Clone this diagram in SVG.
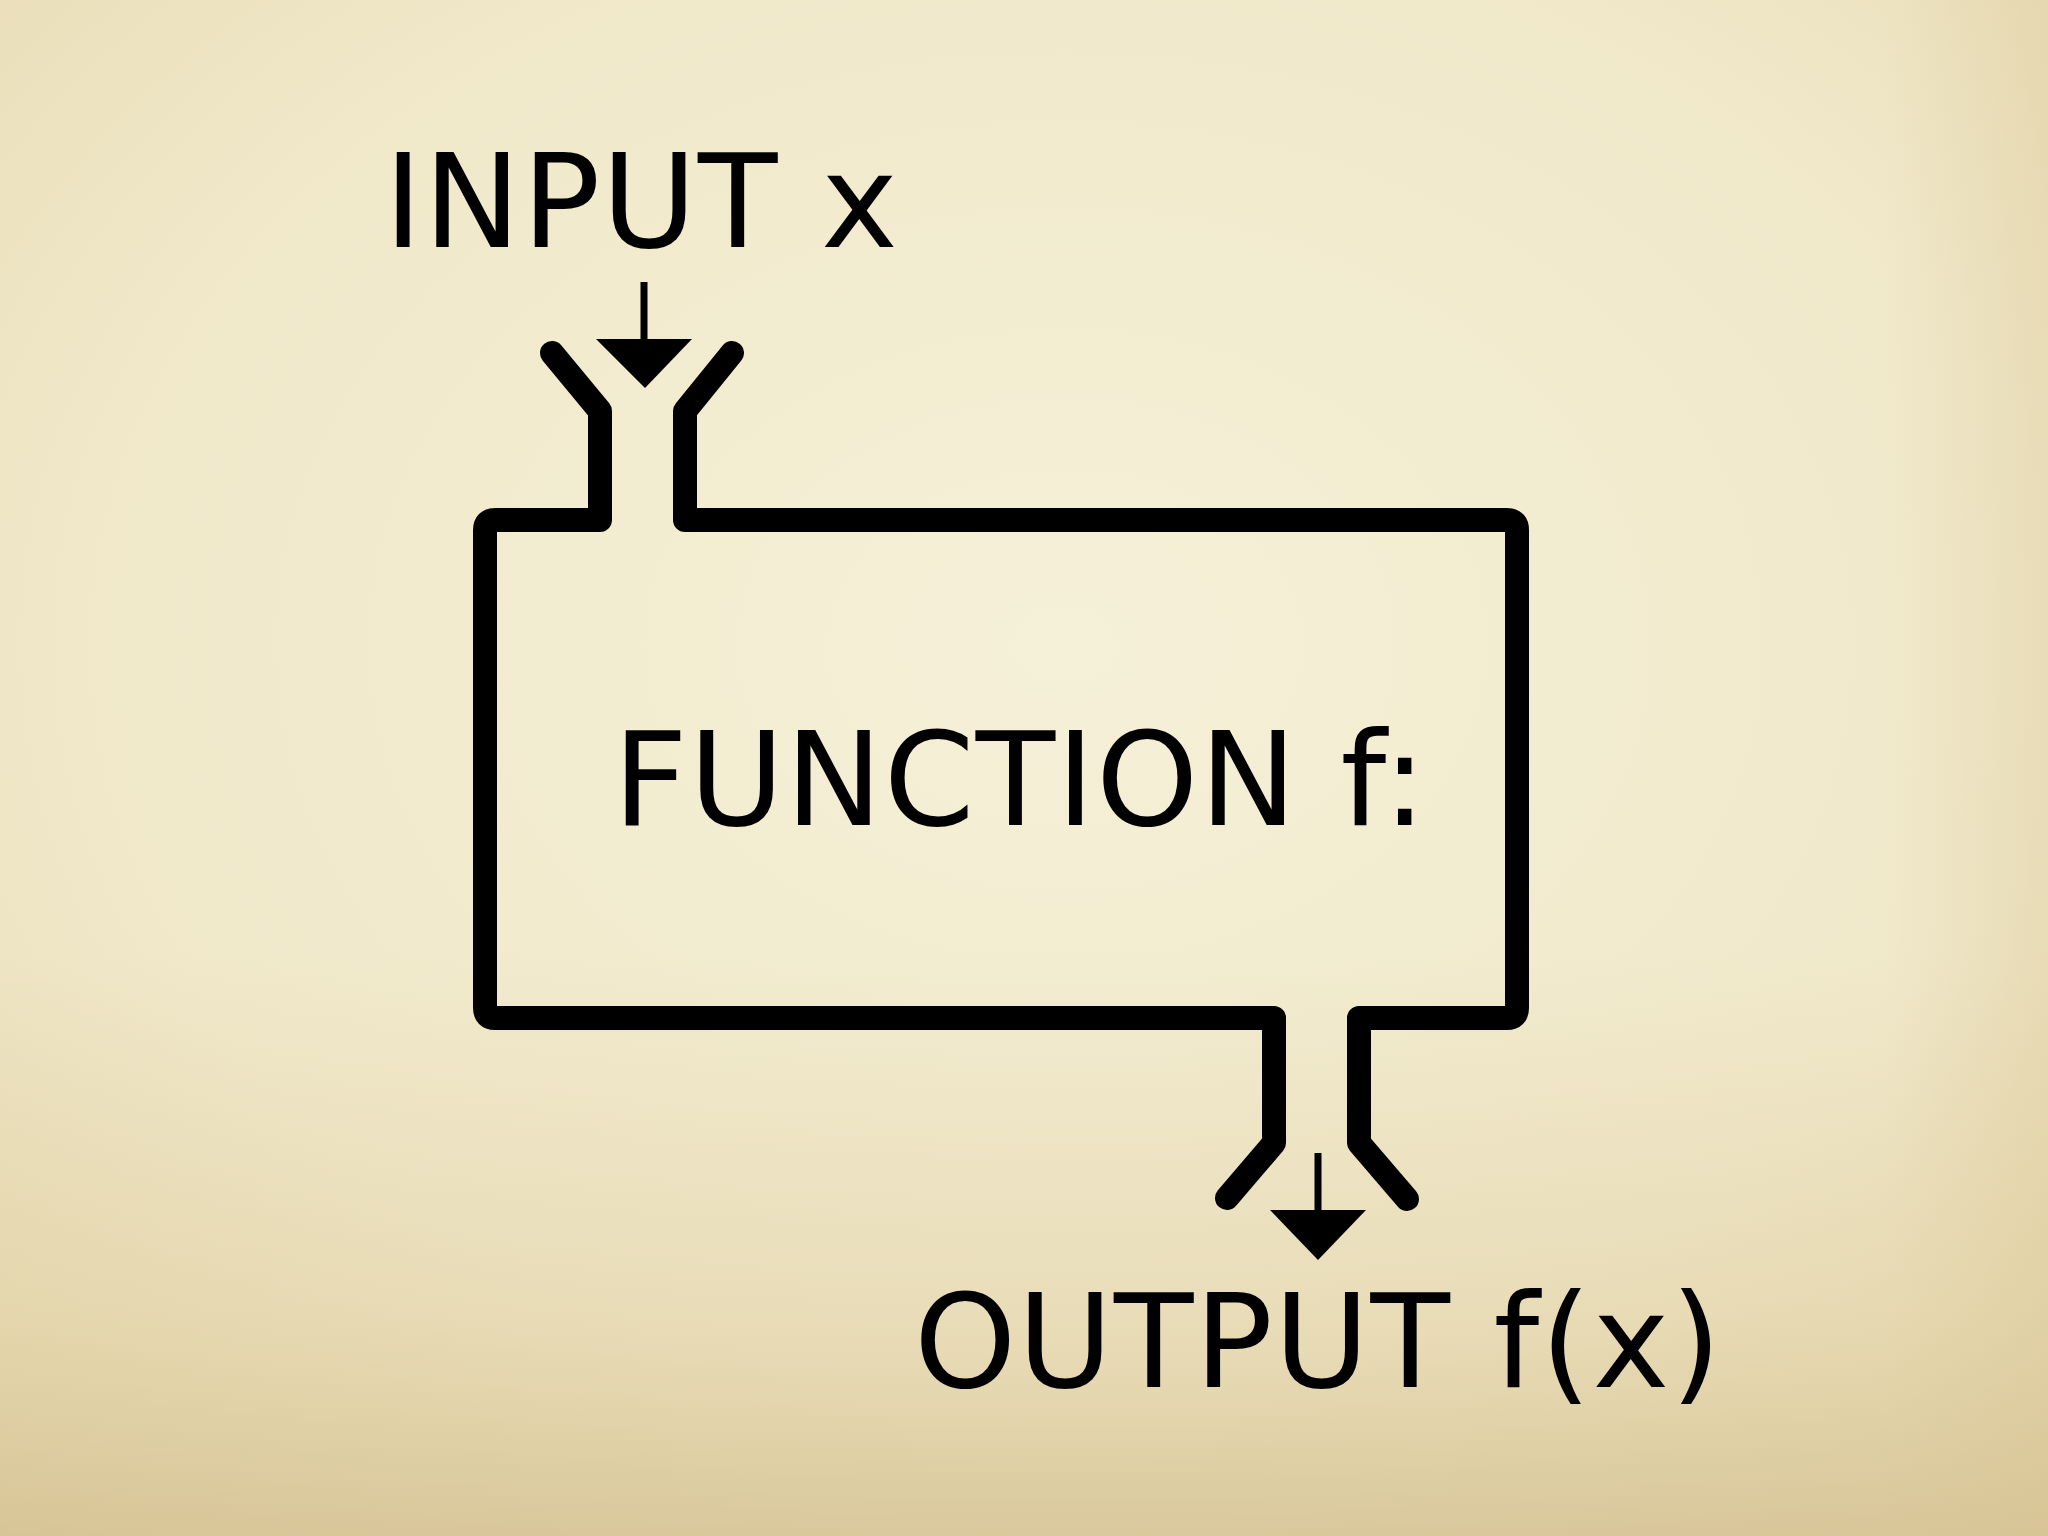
<svg xmlns="http://www.w3.org/2000/svg" width="2048" height="1536" viewBox="0 0 2048 1536">
<defs>
<radialGradient id="paper" cx="0.52" cy="0.42" r="0.8">
<stop offset="0" stop-color="#f5f0d8"/>
<stop offset="0.6" stop-color="#f0e8c9"/>
<stop offset="1" stop-color="#e6d9b0"/>
</radialGradient>
<linearGradient id="bottomShade" x1="0" y1="0" x2="0" y2="1">
<stop offset="0.62" stop-color="#d8c391" stop-opacity="0"/>
<stop offset="0.85" stop-color="#d8c391" stop-opacity="0.3"/>
<stop offset="1" stop-color="#cdb684" stop-opacity="0.6"/>
</linearGradient>
<linearGradient id="rightShade" x1="0" y1="0" x2="1" y2="0">
<stop offset="0.92" stop-color="#d8c391" stop-opacity="0"/>
<stop offset="1" stop-color="#d8c391" stop-opacity="0.3"/>
</linearGradient>
</defs>
<style>
.wall{fill:none;stroke:#000;stroke-width:24;stroke-linejoin:round;stroke-linecap:round}
.shaft{stroke:#000;stroke-width:7;fill:none}
.head{fill:#000}
.lbl{font-family:"DejaVu Sans","Liberation Sans",sans-serif;font-size:130px;fill:#000;letter-spacing:1.2px}
</style>
<rect x="0" y="0" width="2048" height="1536" fill="url(#paper)"/>
<rect x="0" y="0" width="2048" height="1536" fill="url(#bottomShade)"/>
<rect x="0" y="0" width="2048" height="1536" fill="url(#rightShade)"/>

<g id="function-box">
<path class="wall" d="M552,353 L600,411 L600,520 L495,520 Q485,520 485,530 L485,1008 Q485,1018 495,1018 L1274,1018 L1274,1143 L1227,1198"/>
<path class="wall" d="M732,353 L685,411 L685,520 L1507,520 Q1517,520 1517,530 L1517,1008 Q1517,1018 1507,1018 L1359,1018 L1359,1143 L1407,1199"/>
<text class="lbl" x="613" y="825">FUNCTION f:</text>
</g>

<g id="input">
<text class="lbl" x="384" y="247">INPUT x</text>
</g>

<g id="output">
<text class="lbl" x="914" y="1387">OUTPUT f(x)</text>
</g>

<g id="connectors">
<line class="shaft" x1="644" y1="282" x2="644" y2="345"/>
<polygon class="head" points="596,339 692,339 645,388"/>
<line class="shaft" x1="1318" y1="1153" x2="1318" y2="1215"/>
<polygon class="head" points="1270,1210 1366,1210 1318,1260"/>
</g>
</svg>
